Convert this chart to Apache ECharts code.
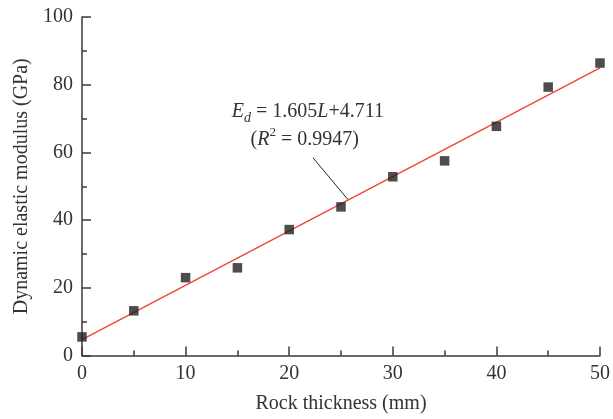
<!DOCTYPE html>
<html><head><meta charset="utf-8">
<script src="https://cdn.jsdelivr.net/npm/echarts@6/dist/echarts.min.js"></script>
<style>html,body{margin:0;padding:0;background:#fff}#c{width:613px;height:419px}</style>
</head><body><div id="c"></div>
<script>
const thickness = [0, 5, 10, 15, 20, 25, 30, 35, 40, 45, 50];
const modulus = [5.5, 13.2, 23.0, 25.9, 37.2, 43.9, 52.8, 57.5, 67.7, 79.3, 86.4];
const slope = 1.605, intercept = 4.711;
const fitRange = [0, 50];
const xTicks = [0, 10, 20, 30, 40, 50];
const yTicks = [0, 20, 40, 60, 80, 100];

const font = '"Liberation Serif", "DejaVu Serif", serif';
const axisColor = '#3a3a3a';
const chart = echarts.init(document.getElementById('c'), null, {renderer: 'canvas'});
const fitData = fitRange.map(x => [x, slope * x + intercept]);
const axisCommon = {
  axisLine: {show: true, onZero: false, lineStyle: {color: axisColor, width: 1.5}},
  axisTick: {show: true, inside: true, length: 9, lineStyle: {color: axisColor, width: 1.5}},
  minorTick: {show: true, splitNumber: 2, length: 5, lineStyle: {color: axisColor, width: 1.5}},
  splitLine: {show: false},
  axisLabel: {fontFamily: font, fontSize: 20, color: '#333'},
  nameLocation: 'middle',
  nameTextStyle: {fontFamily: font, fontSize: 20, color: '#333'}
};
chart.setOption({
  animation: false,
  grid: {left: 82, right: 10, top: 17, bottom: 63.5},
  xAxis: Object.assign({}, axisCommon, {
    type: 'value', min: xTicks[0], max: xTicks[xTicks.length-1], interval: 10,
    name: 'Rock thickness (mm)', nameGap: 38,
    axisLabel: Object.assign({}, axisCommon.axisLabel, {margin: 8})
  }),
  yAxis: Object.assign({}, axisCommon, {
    type: 'value', min: yTicks[0], max: yTicks[yTicks.length-1], interval: 20,
    name: 'Dynamic elastic modulus (GPa)', nameGap: 49,
    axisLabel: Object.assign({}, axisCommon.axisLabel, {margin: 9})
  }),
  series: [
    {type: 'line', data: fitData, symbol: 'none', lineStyle: {color: '#ee4433', width: 1.3}, z: 2},
    {type: 'scatter', data: thickness.map((x, i) => [x, modulus[i]]), symbol: 'rect', symbolSize: 9.5,
     itemStyle: {color: '#231f20'}, z: 3}
  ]
});

// annotation placed via data coordinates
const anchorX = 25.7;
const anchor = chart.convertToPixel({gridIndex: 0}, [anchorX, slope * anchorX + intercept]);
const lineStart = chart.convertToPixel({gridIndex: 0}, [22.3, 58.4]);
const t1 = chart.convertToPixel({gridIndex: 0}, [21.8, 71.5]);
const t2 = chart.convertToPixel({gridIndex: 0}, [21.5, 64.3]);
chart.setOption({
  graphic: [
    {type: 'line', shape: {x1: lineStart[0], y1: lineStart[1], x2: anchor[0], y2: anchor[1]},
     style: {stroke: '#222', lineWidth: 1}},
    {type: 'text', x: t1[0], y: t1[1], style: {
      text: '{i|E}{sub|d}{n| = 1.605}{i|L}{n|+4.711}',
      align: 'center', verticalAlign: 'middle',
      rich: {
        i: {fontFamily: font, fontSize: 20, fontStyle: 'italic', fill: '#333', verticalAlign: 'top', lineHeight: 24},
        n: {fontFamily: font, fontSize: 20, fill: '#333', verticalAlign: 'top', lineHeight: 24},
        sub: {fontFamily: font, fontSize: 14, fontStyle: 'italic', fill: '#333', verticalAlign: 'bottom', lineHeight: 24, padding: [14, 0, 0, 0]}
      }}},
    {type: 'text', x: t2[0], y: t2[1], style: {
      text: '{n|(}{i|R}{sup|2}{n| = 0.9947)}',
      align: 'center', verticalAlign: 'middle',
      rich: {
        i: {fontFamily: font, fontSize: 20, fontStyle: 'italic', fill: '#333', verticalAlign: 'bottom', lineHeight: 24},
        n: {fontFamily: font, fontSize: 20, fill: '#333', verticalAlign: 'bottom', lineHeight: 24},
        sup: {fontFamily: font, fontSize: 13, fill: '#333', verticalAlign: 'top', lineHeight: 24, padding: [0, 0, 10, 0]}
      }}}
  ]
});
</script></body></html>
